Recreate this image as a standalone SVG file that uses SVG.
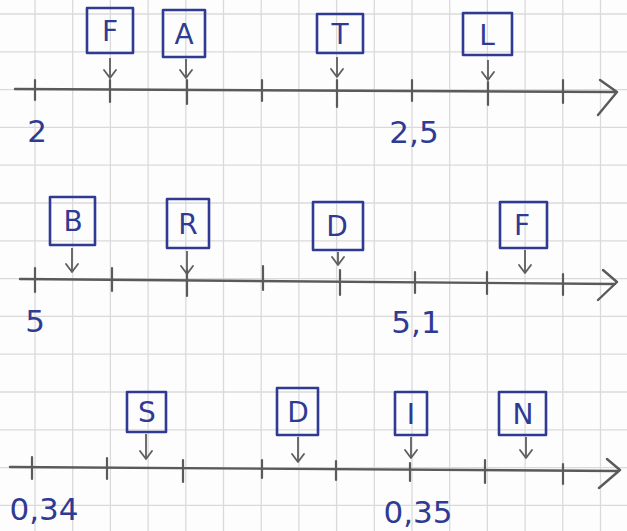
<svg xmlns="http://www.w3.org/2000/svg" width="627" height="531" viewBox="0 0 627 531">
<defs>
<style>
.grid line{stroke:#dadada;stroke-width:1.3}
.axis{stroke:#5a5a5a;stroke-width:2.4;fill:none;stroke-linecap:round;stroke-linejoin:round}
.tick{stroke:#5a5a5a;stroke-width:2.2;stroke-linecap:round}
.box{fill:none;stroke:#2f3b93;stroke-width:2.6;stroke-linejoin:round}
.let{font-family:"DejaVu Sans",sans-serif;font-size:28px;fill:#2f3b93;text-anchor:middle}
.lab{font-family:"DejaVu Sans",sans-serif;font-size:31px;fill:#2f3b93;text-anchor:middle}
.conn line{stroke:#5e5e5e;stroke-width:1.8;marker-end:url(#ah)}
</style>
<marker id="ah" viewBox="0 0 10 14" refX="9" refY="7" markerWidth="10" markerHeight="14" markerUnits="userSpaceOnUse" orient="auto">
<path d="M1,1 L9,7 L1,13" fill="none" stroke="#5e5e5e" stroke-width="1.8" stroke-linecap="round" stroke-linejoin="round"/>
</marker>
</defs>
<rect width="627" height="531" fill="#fdfdfd"/>
<g class="grid">
<line x1="-2.7" y1="0" x2="-2.7" y2="531"/><line x1="35" y1="0" x2="35" y2="531"/><line x1="72.7" y1="0" x2="72.7" y2="531"/><line x1="110.4" y1="0" x2="110.4" y2="531"/><line x1="148.1" y1="0" x2="148.1" y2="531"/><line x1="185.8" y1="0" x2="185.8" y2="531"/><line x1="223.5" y1="0" x2="223.5" y2="531"/><line x1="261.2" y1="0" x2="261.2" y2="531"/><line x1="298.9" y1="0" x2="298.9" y2="531"/><line x1="336.6" y1="0" x2="336.6" y2="531"/><line x1="374.3" y1="0" x2="374.3" y2="531"/><line x1="412" y1="0" x2="412" y2="531"/><line x1="449.7" y1="0" x2="449.7" y2="531"/><line x1="487.4" y1="0" x2="487.4" y2="531"/><line x1="525.1" y1="0" x2="525.1" y2="531"/><line x1="562.8" y1="0" x2="562.8" y2="531"/><line x1="600.5" y1="0" x2="600.5" y2="531"/>
<line x1="0" y1="14" x2="627" y2="14"/><line x1="0" y1="51.8" x2="627" y2="51.8"/><line x1="0" y1="89.6" x2="627" y2="89.6"/><line x1="0" y1="127.4" x2="627" y2="127.4"/><line x1="0" y1="165.2" x2="627" y2="165.2"/><line x1="0" y1="203" x2="627" y2="203"/><line x1="0" y1="240.8" x2="627" y2="240.8"/><line x1="0" y1="278.6" x2="627" y2="278.6"/><line x1="0" y1="316.4" x2="627" y2="316.4"/><line x1="0" y1="354.2" x2="627" y2="354.2"/><line x1="0" y1="392" x2="627" y2="392"/><line x1="0" y1="429.8" x2="627" y2="429.8"/><line x1="0" y1="467.6" x2="627" y2="467.6"/><line x1="0" y1="505.4" x2="627" y2="505.4"/>
</g>
<g id="axis1">
<path class="axis" d="M15,89 L615,92 M600,80 L617,92 L598,115"/>
<line class="tick" x1="35" y1="80" x2="35" y2="100"/><line class="tick" x1="110" y1="80" x2="110" y2="102"/><line class="tick" x1="187" y1="80" x2="187" y2="104"/><line class="tick" x1="262" y1="80" x2="262" y2="101"/><line class="tick" x1="337" y1="80" x2="337" y2="107"/><line class="tick" x1="412" y1="80" x2="412" y2="101"/><line class="tick" x1="488" y1="82" x2="488" y2="105"/><line class="tick" x1="563" y1="80" x2="563" y2="103"/>
<text class="lab" x="37" y="142">2</text>
<text class="lab" x="414" y="143">2,5</text>
</g>
<g id="axis2">
<path class="axis" d="M20,279 L615,284 M603,270 L617,282 L598,300"/>
<line class="tick" x1="35" y1="268" x2="35" y2="292"/><line class="tick" x1="112" y1="268" x2="112" y2="291"/><line class="tick" x1="187" y1="270" x2="187" y2="296"/><line class="tick" x1="263" y1="266" x2="263" y2="290"/><line class="tick" x1="340" y1="270" x2="340" y2="295"/><line class="tick" x1="415" y1="272" x2="415" y2="293"/><line class="tick" x1="487" y1="272" x2="487" y2="294"/><line class="tick" x1="563" y1="274" x2="563" y2="295"/>
<text class="lab" x="35" y="332">5</text>
<text class="lab" x="416" y="333">5,1</text>
</g>
<g id="axis3">
<path class="axis" d="M10,467 L618,471 M607,459 L620,470 L599,488"/>
<line class="tick" x1="32" y1="457" x2="32" y2="479"/><line class="tick" x1="107" y1="458" x2="107" y2="479"/><line class="tick" x1="183" y1="460" x2="183" y2="482"/><line class="tick" x1="262" y1="460" x2="262" y2="478"/><line class="tick" x1="336" y1="461" x2="336" y2="480"/><line class="tick" x1="410" y1="463" x2="410" y2="481"/><line class="tick" x1="485" y1="460" x2="485" y2="483"/><line class="tick" x1="563" y1="464" x2="563" y2="484"/>
<text class="lab" x="44" y="520">0,34</text>
<text class="lab" x="418" y="523">0,35</text>
</g>
<g id="nodeF1"><rect class="box" x="87" y="8" width="46" height="45"/><text class="let" x="110" y="41">F</text></g>
<g id="nodeA"><rect class="box" x="163" y="10" width="42" height="47"/><text class="let" x="184" y="44">A</text></g>
<g id="nodeT"><rect class="box" x="317" y="14" width="46" height="39"/><text class="let" x="340" y="44">T</text></g>
<g id="nodeL"><rect class="box" x="463" y="13" width="49" height="42"/><text class="let" x="487" y="45">L</text></g>
<g id="nodeB"><rect class="box" x="50" y="197" width="45" height="48"/><text class="let" x="73" y="231">B</text></g>
<g id="nodeR"><rect class="box" x="167" y="199" width="42" height="49"/><text class="let" x="188" y="234">R</text></g>
<g id="nodeD1"><rect class="box" x="313" y="202" width="50" height="48"/><text class="let" x="337" y="236">D</text></g>
<g id="nodeF2"><rect class="box" x="500" y="202" width="47" height="46"/><text class="let" x="522" y="235">F</text></g>
<g id="nodeS"><rect class="box" x="127" y="392" width="39" height="40"/><text class="let" x="147" y="422">S</text></g>
<g id="nodeD2"><rect class="box" x="277" y="388" width="41" height="47"/><text class="let" x="298" y="422">D</text></g>
<g id="nodeI"><rect class="box" x="395" y="392" width="32" height="43"/><text class="let" x="411" y="424">I</text></g>
<g id="nodeN"><rect class="box" x="499" y="392" width="47" height="43"/><text class="let" x="523" y="424">N</text></g>
<g class="conn">
<line x1="110" y1="58" x2="110" y2="78"/>
<line x1="186" y1="59" x2="186" y2="78"/>
<line x1="337" y1="57" x2="337" y2="77"/>
<line x1="488" y1="60" x2="488" y2="80"/>
<line x1="72" y1="248" x2="72" y2="272"/>
<line x1="187" y1="251" x2="187" y2="274"/>
<line x1="338" y1="252" x2="338" y2="265"/>
<line x1="525" y1="250" x2="525" y2="273"/>
<line x1="146" y1="434" x2="146" y2="459"/>
<line x1="298" y1="437" x2="298" y2="462"/>
<line x1="411" y1="437" x2="411" y2="458"/>
<line x1="526" y1="437" x2="526" y2="458"/>
</g>
</svg>
